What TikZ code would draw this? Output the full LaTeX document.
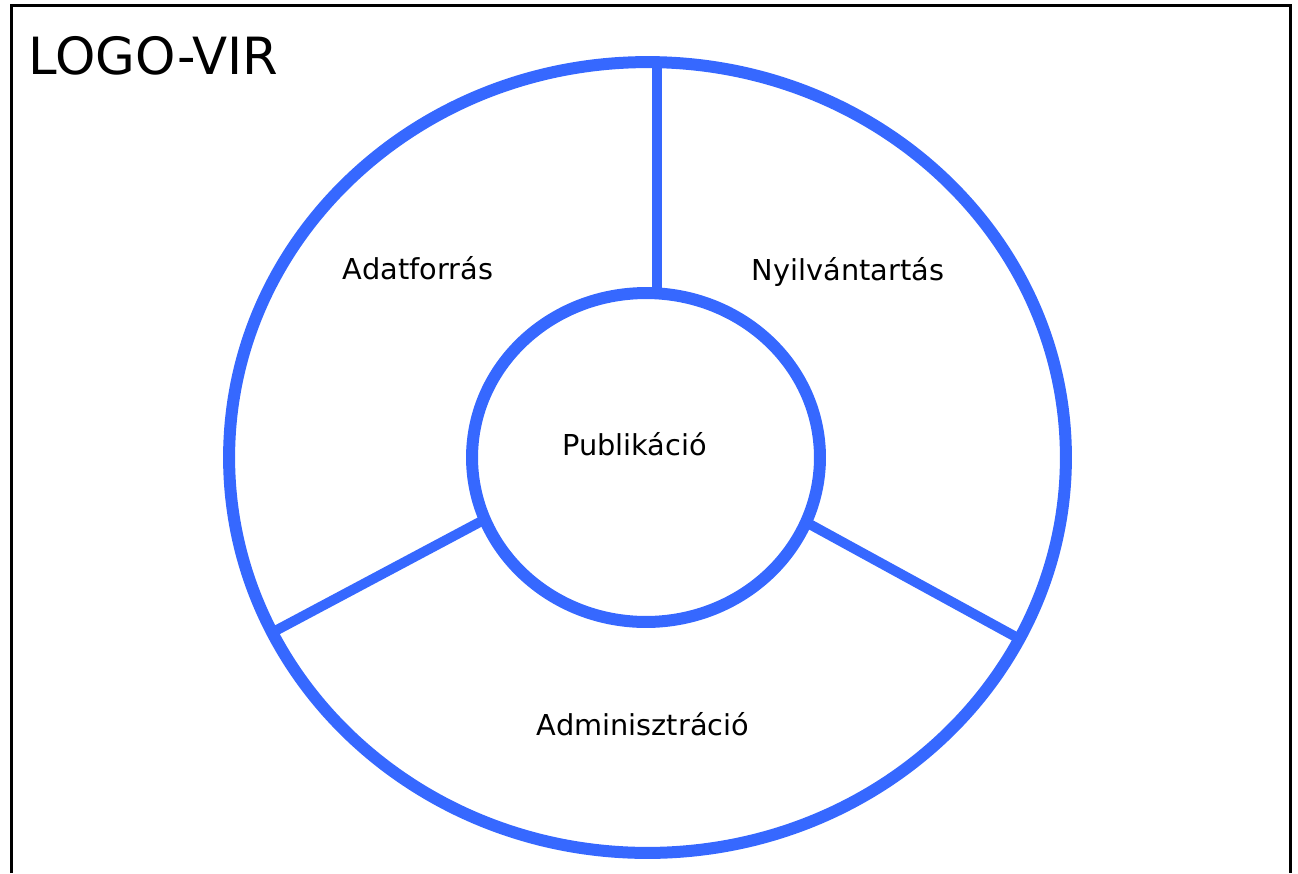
\documentclass[tikz,border=0pt]{standalone}
\usepackage{fontspec}
\setmainfont{DejaVu Sans}
\usetikzlibrary{shapes.geometric}
\definecolor{ringblue}{RGB}{54,104,255}
\tikzset{
  ring/.style={draw=ringblue, line width=0.24cm, ellipse, inner sep=0pt, outer sep=0pt},
  spoke/.style={draw=ringblue, line width=0.2cm},
  lbl/.style={anchor=base, inner sep=0pt, font=\fontsize{16.4}{19}\selectfont},
}
\begin{document}
\begin{tikzpicture}[x=0.02cm, y=-0.02cm]
\useasboundingbox (0,0) rectangle (1298,873);
\path[draw, line width=0.06cm] (11.5,873) |- (1290.5,5.5) -- (1290.5,873);
\node[anchor=base west, inner sep=0pt, font=\fontsize{29.2}{34}\selectfont] (title) at (28,74) {LOGO-VIR};

\node[ring, minimum width=16.74cm, minimum height=15.82cm] (outer) at (647.5,457.5) {};
\node[ring, minimum width=6.96cm, minimum height=6.58cm] (inner) at (646,457.5) {};
\path[spoke] (inner.86) -- (inner.86 |- outer.north);
\path[spoke] (inner.201.5) -- (outer.205.6);
\path[spoke] (inner.338.5) -- (outer.334.2);

\node[lbl] (src) at (418,279) {Adatforrás};
\node[lbl] (reg) at (848,280) {Nyilvántartás};
\node[lbl] (pub) at (634.5,455) {Publikáció};
\node[lbl] (adm) at (643,735) {Adminisztráció};
\end{tikzpicture}
\end{document}
